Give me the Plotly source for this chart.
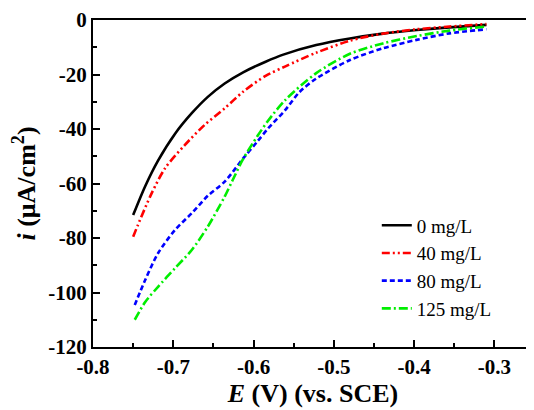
import plotly.graph_objects as go

# Data
E_0 = [-0.750, -0.735, -0.719, -0.698, -0.677, -0.657, -0.636, -0.613, -0.585, -0.563, -0.522, -0.480, -0.439, -0.397, -0.356, -0.310]
i_0 = [-71.6, -61.0, -51.6, -41.8, -34.2, -28.2, -23.3, -19.2, -15.3, -12.7, -9.2, -6.8, -5.0, -3.7, -2.7, -1.8]

E_40 = [-0.750, -0.744, -0.727, -0.710, -0.686, -0.661, -0.636, -0.613, -0.585, -0.561, -0.522, -0.480, -0.439, -0.397, -0.356, -0.310]
i_40 = [-79.5, -75.2, -63.6, -54.3, -46.0, -38.5, -32.4, -26.3, -20.5, -17.1, -12.0, -7.6, -5.0, -3.4, -2.4, -1.5]

E_80 = [-0.748, -0.735, -0.719, -0.698, -0.677, -0.657, -0.636, -0.613, -0.595, -0.582, -0.561, -0.543, -0.522, -0.480, -0.439, -0.397, -0.356, -0.310]
i_80 = [-104.6, -95.4, -85.6, -77.1, -70.9, -64.5, -59.3, -50.8, -44.5, -39.8, -33.2, -26.5, -21.5, -14.7, -10.4, -7.3, -4.9, -3.4]

E_125 = [-0.748, -0.735, -0.719, -0.698, -0.677, -0.657, -0.636, -0.626, -0.613, -0.595, -0.582, -0.561, -0.522, -0.480, -0.439, -0.397, -0.356, -0.310]
i_125 = [-110.0, -103.5, -97.9, -91.1, -84.4, -75.8, -64.8, -58.7, -51.0, -42.5, -37.0, -29.5, -19.5, -12.4, -8.6, -5.9, -3.9, -2.4]

series_names = ["0 mg/L", "40 mg/L", "80 mg/L", "125 mg/L"]
series_colors = ["#000000", "#ff0000", "#0000ff", "#00ee00"]
series_dash = ["solid", "8px,3px,2px,3px,2px,3px", "5px,3px", "9px,3px,2px,3px"]

x_tickvals = [-0.8, -0.7, -0.6, -0.5, -0.4, -0.3]
x_ticktext = ["-0.8", "-0.7", "-0.6", "-0.5", "-0.4", "-0.3"]
y_tickvals = [0, -20, -40, -60, -80, -100, -120]
y_ticktext = ["0", "-20", "-40", "-60", "-80", "-100", "-120"]

fig = go.Figure()
for E, I, name, col, dash in zip([E_0, E_40, E_80, E_125], [i_0, i_40, i_80, i_125],
                                 series_names, series_colors, series_dash):
    fig.add_trace(go.Scatter(x=E, y=I, mode="lines", name=name,
                             line=dict(color=col, width=2.6, dash=dash, shape="spline", smoothing=0.8)))

FONT = "Times New Roman"
axis_common = dict(
    showline=True, linecolor="black", linewidth=2, mirror=True,
    ticks="inside", ticklen=7, tickwidth=2, tickcolor="black",
    showgrid=False, zeroline=False, automargin=False,
    ticklabeloverflow="allow",
    tickfont=dict(family=FONT, size=21, color="black", weight="bold"),
)

fig.update_xaxes(range=[-0.8, -0.252], tickvals=x_tickvals, ticktext=x_ticktext,
                 minor=dict(ticks="inside", ticklen=4, tickwidth=2, tickcolor="black", dtick=0.05, tick0=-0.8),
                 title=dict(text="<b><i>E</i> (V) (vs. SCE)</b>", font=dict(family=FONT, size=26, color="black"), standoff=6),
                 **axis_common)
fig.update_yaxes(range=[-120, 0], tickvals=y_tickvals, ticktext=y_ticktext,
                 minor=dict(ticks="inside", ticklen=4, tickwidth=2, tickcolor="black", dtick=10, tick0=0),
                 title=dict(text="<b><i>i</i> (μA/cm<sup>2</sup>)</b>", font=dict(family=FONT, size=26, color="black"), standoff=18),
                 **axis_common)

fig.update_layout(
    width=534, height=410,
    margin=dict(l=85, r=9, t=12, b=71),
    plot_bgcolor="white", paper_bgcolor="white",
    font=dict(family=FONT, color="black"),
    legend=dict(x=0.645, y=0.43, xanchor="left", yanchor="top",
                font=dict(family=FONT, size=19, color="black"),
                bgcolor="rgba(0,0,0,0)", tracegroupgap=0),
)

fig.write_html("out.html")
